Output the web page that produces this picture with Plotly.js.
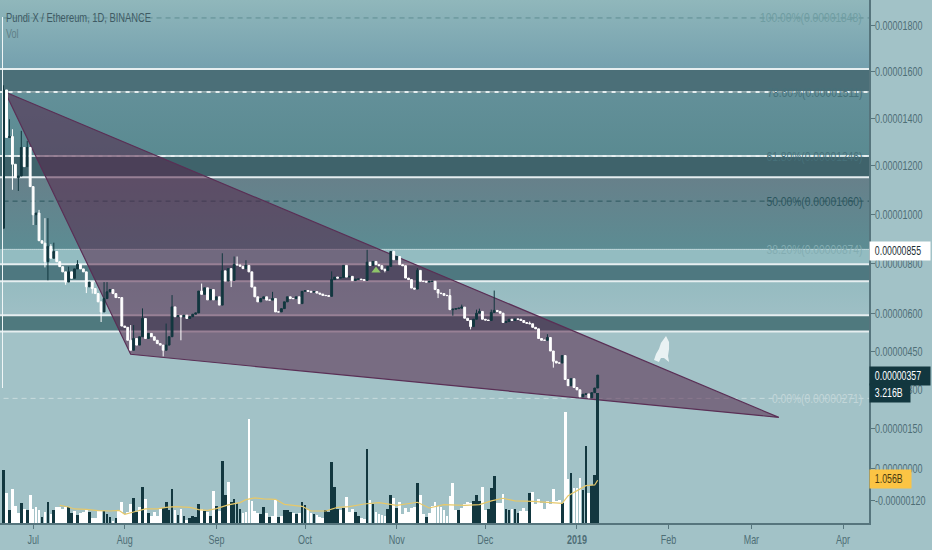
<!DOCTYPE html>
<html><head><meta charset="utf-8">
<script src="https://cdn.plot.ly/plotly-3.0.1.min.js"></script>
<style>html,body{margin:0;padding:0;background:#a2c2c7}</style></head>
<body><div id="chart" style="width:932px;height:550px"></div>
<script>
// Prices are in units of 1e-8 ETH. The pane uses a log scale shifted by PRICE_SHIFT.
const PRICE_SHIFT = 11000;
const firstDay = Date.UTC(2018, 5, 21);
const firstOpen = 942;
const closes = [1520,1318,1322,1206,1150,1157,1276,1196,1276,1113,997,1004,891,881,806,868,820,847,806,786,
765,724,765,739,777,795,777,765,705,724,698,678,645,605,658,685,694,678,662,662,
549,544,493,454,500,474,507,579,500,520,507,493,480,474,454,474,507,625,586,590,
586,592,579,586,596,601,688,675,701,653,694,653,665,632,769,728,778,731,795,793,
788,778,791,765,704,665,645,658,665,652,652,658,605,605,618,645,665,658,658,665,
638,687,690,687,684,686,680,676,671,670,667,734,744,740,742,791,744,747,730,736,
736,734,731,804,791,807,794,790,776,771,787,847,814,827,794,790,740,734,700,696,
771,727,727,724,727,727,694,680,678,671,670,614,616,618,620,624,580,571,547,576,
600,607,576,573,571,603,611,607,600,563,567,576,571,577,576,571,563,560,558,544,
538,500,493,493,504,451,411,404,404,433,340,316,343,309,300,273,283,284,269,289,
307,357];
const highWicks = [[0,1540],[2,1395],[3,1353],[6,1346],[8,1304],[12,1017],[14,983],[15,983],[16,877],[17,883],
[22,786],[25,812],[34,724],[35,724],[43,553],[44,553],[47,619],[55,559],[57,672],[67,718],[74,840],[78,827],
[79,827],[82,812],[91,685],[111,767],[123,854],[132,851],[140,780],[151,696],[155,634],[160,614],[161,618],
[165,614],[166,690],[178,567],[184,517]];
const lowWicks = [[3,1100],[5,1095],[10,955],[11,955],[14,783],[15,731],[21,713],[28,680],[30,678],[33,565],
[54,430],[60,493],[77,704],[129,763],[147,660],[152,590],[158,536],[186,386]];
const volumes = [1304,743,314,842,413,248,487,338,314,693,355,388,314,149,264,512,215,314,404,396,
355,396,396,248,289,190,248,272,338,264,124,124,297,297,289,231,157,41,124,330,
512,231,264,462,619,272,396,899,594,248,182,281,182,355,371,512,314,850,314,190,
347,165,66,124,182,149,462,355,289,272,165,800,413,289,1526,693,1007,520,586,503,
338,256,272,2574,545,289,248,223,388,248,140,165,561,149,165,314,314,272,256,215,
239,512,454,314,248,231,206,149,116,330,272,1510,891,355,330,380,635,272,338,272,
173,132,99,1840,561,462,281,231,198,173,338,693,611,380,512,223,363,281,380,388,
982,693,215,140,248,429,528,429,396,314,165,668,982,330,314,363,479,512,495,545,
685,536,899,330,347,875,1155,495,495,726,338,314,347,347,239,297,371,289,743,759,
479,594,495,355,545,462,842,545,561,495,2739,1097,1229,875,875,1122,809,1914,743,932,
1180,3216];
const darkVolumeDays = [0,2,6,8,13,15,17,22,23,25,29,34,35,36,38,44,45,47,49,54,55,56,57,59,61,63,64,65,66,68,70,72,
74,75,77,78,79,80,87,88,90,93,95,96,97,99,101,102,105,109,110,111,112,113,115,119,120,123,125,130,131,133,140,143,
154,159,160,161,164,165,166,170,171,173,174,178,189,192,196,197,199,200,201];
const maDays = [19,22,24,28,32,36,39,41,44,48,52,55,58,63,66,69,72,76,80,82,85,88,92,95,101,104,109,113,117,122,127,133,140,144,149,156,161,165,169,173,179,189,191,197,200,201];
const maValues = [437,396,347,338,305,297,314,215,272,347,347,388,404,388,330,314,355,446,503,578,619,594,586,462,413,297,297,388,404,470,503,437,512,371,454,437,454,545,611,545,536,487,677,924,940,1056];

const rangeStart = '2018-06-19 19:00', rangeEnd = '2019-04-09 19:00';
const priceTop = 1911, priceBottom = -203, volumeTop = 12926;
const bandTops = [1911,1610,1511,1240,1152,856,796,727,592,528];
const bandBottoms = [1610,1511,1240,1152,856,796,727,592,528,-203];
const bandColors = [['#90b7bb','#74a0ae'],'#4b6f78',['#639099','#5a8a91'],'#3f636b',['#67808a','#5c8c93'],'#93bcc1','#4e7880',['#95bbc0','#9ebfc5'],'#4f797e','#a2c2c7'];
const solidLevels = [1610,1511,1240,1152,796,727,592,528];
const fibLevels = [1832,1511,1240,1053,856,267];
const fibColors = ['#5f8d93','#2f5a62','#b8d0d2','#2c565e','#e8f2f3','#c9dcde'];
const fibDashes = ['5px,4px','5px,4px','5px,4px','5px,4px','1px,1px','5px,4px'];
const fibLabels = ['100.00%(0.00001848)','78.60%(0.00001511)','61.80%(0.00001246)','50.00%(0.00001060)','38.20%(0.00000874)','0.00%(0.00000271)'];
const fibLabelColors = ['#6f9da2','#47717a','#47717a','#2c565e','#83adb2','#c2d6d9'];
const wedgeDates = ['2018-06-21 12:00','2019-03-10 07:00','2018-08-03 00:00','2018-06-21 12:00'];
const wedgePrices = [1511,194,438,1511];
const tickPrices = [1800,1600,1400,1200,1000,800,600,450,300,150,0,-120];
const tickLabels = ['0.00001800','0.00001600','0.00001400','0.00001200','0.00001000','0.00000800','0.00000600','0.00000450','0.00000300','0.00000150','0.00000000','-0.00000120'];
const monthDates = ['2018-07-01','2018-08-01','2018-09-01','2018-10-01','2018-11-01','2018-12-01','2019-01-01','2019-02-01','2019-03-01','2019-04-01'];
const monthLabels = ['Jul','Aug','Sep','Oct','Nov','Dec','<b>2019</b>','Feb','Mar','Apr'];

const FONT = '"Liberation Sans",sans-serif';
const DARK = '#12373f', WHITE = '#ffffff', AXIS = '#56757d', LABEL = '#4e6e76';
const shift = p => p + PRICE_SHIFT;
const days = closes.map((_, i) => new Date(firstDay + i * 864e5).toISOString().slice(0, 10));
const opens = closes.map((c, i) => i ? closes[i - 1] : firstOpen);
const highs = closes.map((c, i) => Math.max(c, opens[i]));
const lows = closes.map((c, i) => Math.min(c, opens[i]));
highWicks.forEach(([i, p]) => highs[i] = Math.max(highs[i], p));
lowWicks.forEach(([i, p]) => lows[i] = Math.min(lows[i], p));

const traces = [];
bandTops.forEach((top, i) => {
  const c = bandColors[i];
  const t = {type:'scatter', mode:'lines', x:[rangeStart,rangeEnd,rangeEnd,rangeStart,rangeStart],
    y:[top,top,bandBottoms[i],bandBottoms[i],top].map(shift), line:{width:0}, fill:'toself', hoverinfo:'skip', showlegend:false};
  if (Array.isArray(c)) t.fillgradient = {type:'vertical', colorscale:[[0,c[1]],[1,c[0]]]};
  else t.fillcolor = c;
  traces.push(t);
});
solidLevels.forEach(p => traces.push({type:'scatter', mode:'lines', x:[rangeStart,rangeEnd], y:[shift(p),shift(p)],
  line:{color:'#e6eef0', width:2}, hoverinfo:'skip', showlegend:false}));
fibLevels.forEach((p, i) => traces.push({type:'scatter', mode:'lines', x:['2018-06-21',rangeEnd], y:[shift(p),shift(p)],
  line:{color:fibColors[i], width:1, dash:fibDashes[i]}, hoverinfo:'skip', showlegend:false}));
traces.push({type:'scatter', mode:'lines', x:wedgeDates, y:wedgePrices.map(shift), fill:'toself',
  fillcolor:'rgba(85,35,72,0.54)', line:{color:'#5a2f55', width:1.2}, hoverinfo:'skip', showlegend:false});
traces.push({type:'bar', yaxis:'y2', x:days, y:volumes, width:0.92*864e5,
  marker:{color:volumes.map((_, i) => darkVolumeDays.includes(i) ? DARK : WHITE), line:{width:0}}, showlegend:false});
traces.push({type:'scatter', yaxis:'y2', mode:'lines', x:maDays.map(i => days[i]), y:maValues,
  line:{color:'#e6c86a', width:1.2}, showlegend:false});
traces.push({type:'candlestick', yaxis:'y3', x:days, open:opens.map(shift), high:highs.map(shift), low:lows.map(shift), close:closes.map(shift),
  increasing:{line:{color:DARK, width:1}, fillcolor:DARK}, decreasing:{line:{color:WHITE, width:1}, fillcolor:WHITE},
  whiskerwidth:0, showlegend:false});
traces.push({type:'scatter', yaxis:'y3', mode:'markers', x:['2018-10-25'], y:[shift(771)],
  marker:{symbol:'triangle-up', size:8, color:'#8fc56a'}, showlegend:false});

const logRange = [Math.log10(shift(priceBottom)), Math.log10(shift(priceTop))];
const px = (x, y) => (x / 869).toFixed(4) + ',' + (1 - y / 523).toFixed(4);
const flag = (text, y, bg, color, w) => ({xref:'paper', yref:'y', x:1, xanchor:'left', y:Math.log10(shift(y)), yanchor:'middle', text,
  showarrow:false, bgcolor:bg, width:w, height:18, align:'left', font:{family:FONT, size:12.5, color}, borderpad:0});
const annotations = [
  {xref:'paper', yref:'paper', x:4/869, y:1-17/523, xanchor:'left', yanchor:'middle', align:'left', text:'Pundi X / Ethereum, 1D, BINANCE', showarrow:false, font:{family:FONT, size:13, color:'#3f5b64'}},
  {xref:'paper', yref:'paper', x:4/869, y:1-34/523, xanchor:'left', yanchor:'middle', align:'left', text:'Vol', showarrow:false, font:{family:FONT, size:12.5, color:'#5f7f87'}},
  ...fibLabels.map((t, i) => ({xref:'paper', yref:'y', x:864/869, xanchor:'right', align:'right', y:Math.log10(shift(fibLevels[i])), yanchor:'middle', text:t,
    showarrow:false, font:{family:FONT, size:13, color:fibLabelColors[i]}})),
  flag('&nbsp;&nbsp;0.00000855', 850, '#ffffff', '#1c2f35', 60),
  flag('&nbsp;&nbsp;0.00000357', 353, DARK, '#ffffff', 60),
  flag('&nbsp;&nbsp;3.216B', 286, DARK, '#ffffff', 40),
  flag('&nbsp;&nbsp;1.056B', -40, '#fbc444', '#4a3a10', 41)
];
const rocket = [[666,336],[669,342],[669,349],[668,356],[669,362],[664,358],[661,358],[659,362],[654,360],[656,354],[659,349],[661,343]];
const layout = {
  width:932, height:550, margin:{l:0, r:63, t:0, b:27}, paper_bgcolor:'#a2c2c7', plot_bgcolor:'#a2c2c7', showlegend:false, hovermode:false,
  bargap:0, boxgap:0.3, boxgroupgap:0.1,
  xaxis:{type:'date', range:[rangeStart,rangeEnd], rangeslider:{visible:false}, showgrid:false, zeroline:false, tickmode:'array', tickvals:monthDates, ticktext:monthLabels,
    ticks:'outside', ticklen:4, tickcolor:AXIS, showline:true, linecolor:AXIS, linewidth:1.5, tickfont:{family:FONT, size:13, color:LABEL}},
  yaxis:{type:'log', side:'right', range:logRange, showgrid:false, zeroline:false, tickmode:'array', tickvals:tickPrices.map(shift), ticktext:tickLabels,
    ticks:'outside', ticklen:4, ticklabelstandoff:-2, tickcolor:AXIS, showline:true, linecolor:AXIS, linewidth:1.5, tickfont:{family:FONT, size:13, color:LABEL}},
  yaxis2:{overlaying:'y', range:[0,volumeTop], visible:false, fixedrange:true},
  yaxis3:{type:'log', overlaying:'y', range:logRange, visible:false, fixedrange:true},
  annotations,
  shapes:[
    {type:'path', xref:'paper', yref:'paper', path:'M'+rocket.map(([x,y]) => px(x,y)).join(' L')+' Z', fillcolor:'#e9f2f3', line:{width:0}, layer:'above'},
    {type:'line', xref:'paper', yref:'paper', x0:2.5/869, x1:2.5/869, y0:1-17/523, y1:1-388/523, line:{color:'#f0f6f7', width:1}, layer:'above'}
  ]
};
// The reference's labels are a narrow face: condense the real text to the same width.
const condense = (selector, factor) => document.querySelectorAll(selector).forEach(el => {
  el.setAttribute('lengthAdjust', 'spacingAndGlyphs');
  el.setAttribute('textLength', (el.getComputedTextLength() * factor).toFixed(1));
});
Plotly.newPlot('chart', traces, layout, {staticPlot:true, displayModeBar:false}).then(() => {
  condense('#chart .xtick text, #chart .ytick text', 0.69);
  const notes = [...document.querySelectorAll('#chart .annotation-text')];
  notes.forEach((el, i) => {
    const f = i < 2 ? 0.72 : i < 8 ? 0.79 : 0.7;
    el.setAttribute('lengthAdjust', 'spacingAndGlyphs');
    el.setAttribute('textLength', (el.getComputedTextLength() * f).toFixed(1));
  });
});
</script></body></html>
